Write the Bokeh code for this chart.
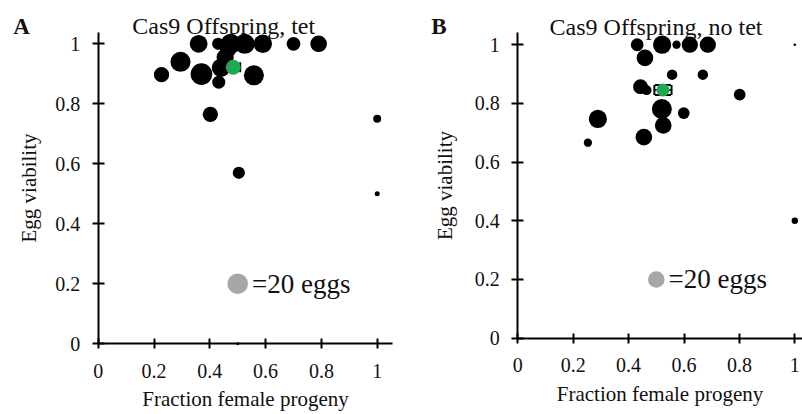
import math
from bokeh.plotting import figure
from bokeh.layouts import row
from bokeh.models import (Range1d, FixedTicker, Label, Whisker, TeeHead,
                          ColumnDataSource, CustomJSTickFormatter)
from bokeh.embed import file_html
from bokeh.resources import INLINE
from bokeh.core.properties import value

# ---------------- data ----------------
tick_values = [0, 0.2, 0.4, 0.6, 0.8, 1]
tick_labels = ["0", "0.2", "0.4", "0.6", "0.8", "1"]

panel_letters = ["A", "B"]
panel_titles = ["Cas9 Offspring, tet", "Cas9 Offspring, no tet"]
x_label = "Fraction female progeny"
y_label = "Egg viability"
legend_text = "=20 eggs"
legend_eggs = 20

# Panel A (tet)
a_female = [0.36, 0.43, 0.475, 0.525, 0.59, 0.70, 0.79, 0.295, 0.227, 0.37,
            0.432, 0.558, 0.44, 0.455, 0.465, 0.402, 0.504, 1.0, 1.0, 0.5]
a_viability = [1.0, 1.0, 1.0, 1.0, 1.0, 1.0, 1.0, 0.94, 0.897, 0.899,
               0.872, 0.895, 0.92, 0.955, 0.98, 0.765, 0.57, 0.75, 0.5, 0.0]
a_eggs = [15, 7, 19, 19, 16, 9, 13, 19, 11, 22,
          8, 19, 16, 14, 12, 11, 7, 3, 1.2, 0.4]
a_mean_female = [0.484]
a_mean_viability = [0.922]
a_sem_female = [0.025]
a_sem_viability = [0.0]

# Panel B (no tet)
b_female = [0.431, 0.521, 0.573, 0.621, 0.686, 1.0, 0.459, 0.557, 0.668, 0.443,
            0.465, 0.801, 0.52, 0.599, 0.289, 0.525, 0.455, 0.253, 1.0]
b_viability = [1.0, 1.0, 1.0, 1.0, 1.0, 1.0, 0.955, 0.898, 0.898, 0.857,
               0.845, 0.830, 0.781, 0.767, 0.747, 0.725, 0.685, 0.666, 0.4]
b_eggs = [12, 24, 5, 19, 19, 0.5, 20, 8, 8, 16,
          7, 10, 29, 10, 24, 20, 20, 5, 3]
b_mean_female = [0.524]
b_mean_viability = [0.846]
b_sem_female = [0.031]
b_sem_viability = [0.017]

# ---------------- styling ----------------
FONT = "Liberation Serif"
GREEN = "#1FAA52"
GREY = "#A6A6A6"
TXT = "#111111"


def make_panel(letter, title, xs, ys, eggs, mx, my, sx, sy, *, width, height,
               x_rng, y_rng, x_axis_end, y_axis_end, r20, mean_size,
               ylab_standoff, title_x, head_y, letter_x):
    p = figure(width=width, height=height, output_backend="svg",
               toolbar_location=None,
               x_range=Range1d(*x_rng), y_range=Range1d(*y_rng),
               min_border=0, min_border_left=0, min_border_right=0,
               min_border_top=0, min_border_bottom=0)
    p.outline_line_color = None
    p.xgrid.grid_line_color = None
    p.ygrid.grid_line_color = None
    p.background_fill_color = "white"
    p.border_fill_color = "white"

    fmt = CustomJSTickFormatter(args=dict(tv=tick_values, tl=tick_labels),
                                code="""
        for (let i = 0; i < tv.length; i++) {
            if (Math.abs(tv[i] - tick) < 1e-9) { return tl[i]; }
        }
        return '';
    """)
    for ax in (p.xaxis[0], p.yaxis[0]):
        ax.fixed_location = 0
        ax.ticker = FixedTicker(ticks=tick_values)
        ax.formatter = fmt
        ax.axis_line_width = 2
        ax.axis_line_color = "black"
        ax.major_tick_line_width = 2
        ax.major_tick_line_color = "black"
        ax.minor_tick_line_color = None
        ax.major_label_text_font = FONT
        ax.major_label_text_font_size = "20px"
        ax.major_label_text_color = TXT
        ax.axis_label_text_font = FONT
        ax.axis_label_text_font_size = "21px"
        ax.axis_label_text_font_style = "normal"
        ax.axis_label_text_color = TXT
    p.xaxis.bounds = (0, x_axis_end)
    p.yaxis.bounds = (0, y_axis_end)
    p.xaxis.axis_label = x_label
    p.yaxis.axis_label = y_label
    p.xaxis.major_tick_in = 5
    p.xaxis.major_tick_out = 5
    p.yaxis.major_tick_in = 6
    p.yaxis.major_tick_out = 6
    p.xaxis.major_label_standoff = 15
    p.xaxis.axis_label_standoff = 6
    p.yaxis.major_label_standoff = 12
    p.yaxis.axis_label_standoff = ylab_standoff

    sizes = [2 * r20 * math.sqrt(n / legend_eggs) for n in eggs]
    src = ColumnDataSource(dict(x=xs, y=ys, s=sizes))
    p.scatter("x", "y", size="s", source=src, fill_color="black",
              line_color=None)

    msrc = ColumnDataSource(dict(
        x=mx, y=my,
        xl=[a - b for a, b in zip(mx, sx)], xu=[a + b for a, b in zip(mx, sx)],
        yl=[a - b for a, b in zip(my, sy)], yu=[a + b for a, b in zip(my, sy)]))
    p.add_layout(Whisker(source=msrc, base="y", lower="xl", upper="xu",
                         dimension="width", line_color="black", line_width=1.5,
                         lower_head=TeeHead(size=10, line_width=2, line_color="black"),
                         upper_head=TeeHead(size=10, line_width=2, line_color="black")))
    if any(v > 0 for v in sy):
        p.add_layout(Whisker(source=msrc, base="x", lower="yl", upper="yu",
                             dimension="height", line_color="black", line_width=1.5,
                             lower_head=TeeHead(size=16, line_width=2, line_color="black"),
                             upper_head=TeeHead(size=16, line_width=2, line_color="black")))
    p.scatter("x", "y", size=mean_size, source=msrc, fill_color=GREEN,
              line_color=None)

    # size legend
    p.scatter(x=[0.5], y=[0.2], size=2 * r20, fill_color=GREY, line_color=None)
    p.text(x=[0.5], y=[0.2], text=[legend_text], x_offset=r20 + 4,
           text_font=value(FONT), text_font_size=value("27px"),
           text_baseline="middle", text_align="left", text_color=TXT)

    p.add_layout(Label(x=title_x, y=head_y, text=title, text_font=FONT,
                       text_font_size="24px", text_align="center",
                       text_baseline="alphabetic", text_color=TXT))
    p.add_layout(Label(x=letter_x, y=head_y, text=letter, text_font=FONT,
                       text_font_size="23px", text_font_style="bold",
                       text_align="left", text_baseline="alphabetic",
                       text_color=TXT))
    return p


pA = make_panel(panel_letters[0], panel_titles[0], a_female, a_viability, a_eggs,
                a_mean_female, a_mean_viability, a_sem_female, a_sem_viability,
                width=400, height=414,
                x_rng=(-0.3502, 1.0835), y_rng=(-0.2357, 1.1443),
                x_axis_end=1.054, y_axis_end=1.039,
                r20=10.3, mean_size=15, ylab_standoff=12, title_x=0.450,
                head_y=1.0577, letter_x=-0.3047)
pB = make_panel(panel_letters[1], panel_titles[1], b_female, b_viability, b_eggs,
                b_mean_female, b_mean_viability, b_sem_female, b_sem_viability,
                width=402, height=414,
                x_rng=(-0.4235, 1.0278), y_rng=(-0.26, 1.1506),
                x_axis_end=1.03, y_axis_end=1.0426,
                r20=8.3, mean_size=13, ylab_standoff=15, title_x=0.499,
                head_y=1.062, letter_x=-0.3126)

layout = row(pA, pB)
open("out.html", "w").write(file_html(layout, INLINE))
